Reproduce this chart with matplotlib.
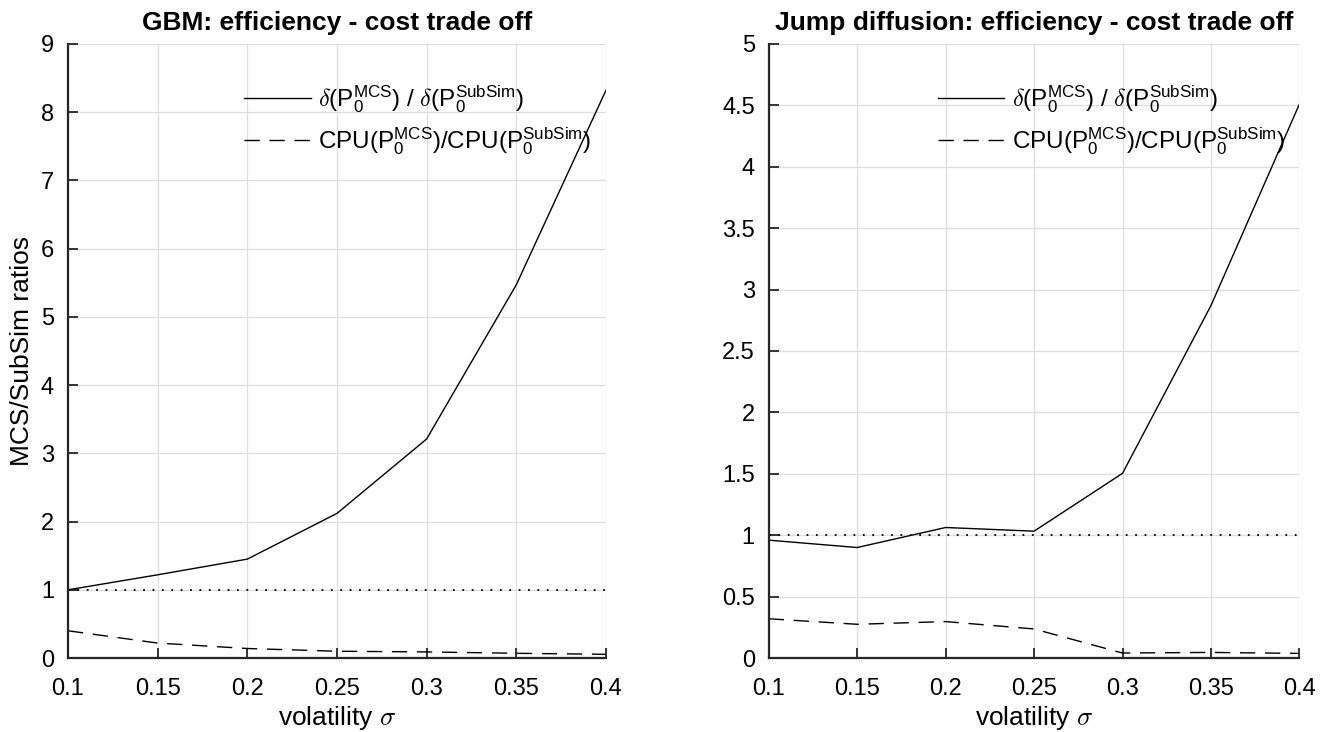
import numpy as np
import matplotlib
matplotlib.use("Agg")
import matplotlib.pyplot as plt

plt.rcParams['font.family'] = ['Liberation Sans', 'DejaVu Sans']
plt.rcParams['mathtext.fontset'] = 'cm'

# data
sigma = [0.1, 0.15, 0.2, 0.25, 0.3, 0.35, 0.4]

gbm_delta = [1.0, 1.22, 1.45, 2.12, 3.21, 5.47, 8.32]
gbm_cpu = [0.40, 0.22, 0.14, 0.10, 0.09, 0.07, 0.055]

jump_delta = [0.96, 0.90, 1.063, 1.033, 1.504, 2.87, 4.51]
jump_cpu = [0.32, 0.275, 0.297, 0.237, 0.041, 0.046, 0.038]

titles = ["GBM: efficiency - cost trade off",
          "Jump diffusion: efficiency - cost trade off"]
ylims = [(0, 9), (0, 5)]
yticks = [np.arange(0, 10, 1), np.arange(0, 5.5, 0.5)]
xticks = [0.1, 0.15, 0.2, 0.25, 0.3, 0.35, 0.4]

lab_delta = r"$\delta$($\mathregular{P_0^{MCS}}$) / $\delta$($\mathregular{P_0^{SubSim}}$)"
lab_cpu = r"CPU($\mathregular{P_0^{MCS}}$)/CPU($\mathregular{P_0^{SubSim}}$)"

fig = plt.figure(figsize=(13.3, 7.32), dpi=100)
ax1 = fig.add_axes([0.0511, 0.101, 0.4045, 0.839])
ax2 = fig.add_axes([0.578, 0.101, 0.399, 0.839])

fs_tick = 17
fs_lab = 19
spine_col = '#262626'
for i, (ax, d, c) in enumerate([(ax1, gbm_delta, gbm_cpu), (ax2, jump_delta, jump_cpu)]):
    ax.plot(sigma, d, color='black', lw=1.0, label=lab_delta)
    ax.plot(sigma, c, color='black', lw=1.0, ls=(0, (11, 7)), label=lab_cpu)
    ax.plot([sigma[0], sigma[-1]], [1, 1], color='black', lw=1.3, ls=(0, (1, 4.2)))
    ax.set_xlim(0.1, 0.4)
    ax.set_ylim(*ylims[i])
    ax.set_xticks(xticks)
    ax.set_xticklabels([f"{x:g}" for x in xticks])
    ax.set_yticks(yticks[i])
    ax.set_yticklabels([f"{y:g}" for y in yticks[i]])
    ax.grid(True, color='#dedede', lw=0.9)
    ax.set_axisbelow(True)
    for s in ['top', 'right']:
        ax.spines[s].set_visible(False)
    for s in ['left', 'bottom']:
        ax.spines[s].set_color(spine_col)
        ax.spines[s].set_linewidth(1.6)
    ax.tick_params(direction='in', length=7, width=1.3, color=spine_col,
                   labelsize=fs_tick, labelcolor='black', pad=10)
    ax.tick_params(axis='x', pad=14)
    ax.set_title(titles[i], fontsize=fs_lab, fontweight='bold', pad=10)
    ax.set_xlabel(r"volatility $\sigma$", fontsize=fs_lab, labelpad=3)
    ax.legend(loc='upper right', bbox_to_anchor=(1.0, 0.96), frameon=False,
              fontsize=17.5, handlelength=2.75, handletextpad=0.3,
              labelspacing=0.45, borderaxespad=0.2)

ax1.set_ylabel("MCS/SubSim ratios", fontsize=fs_lab, labelpad=5)

fig.savefig("out.png", dpi=100)
